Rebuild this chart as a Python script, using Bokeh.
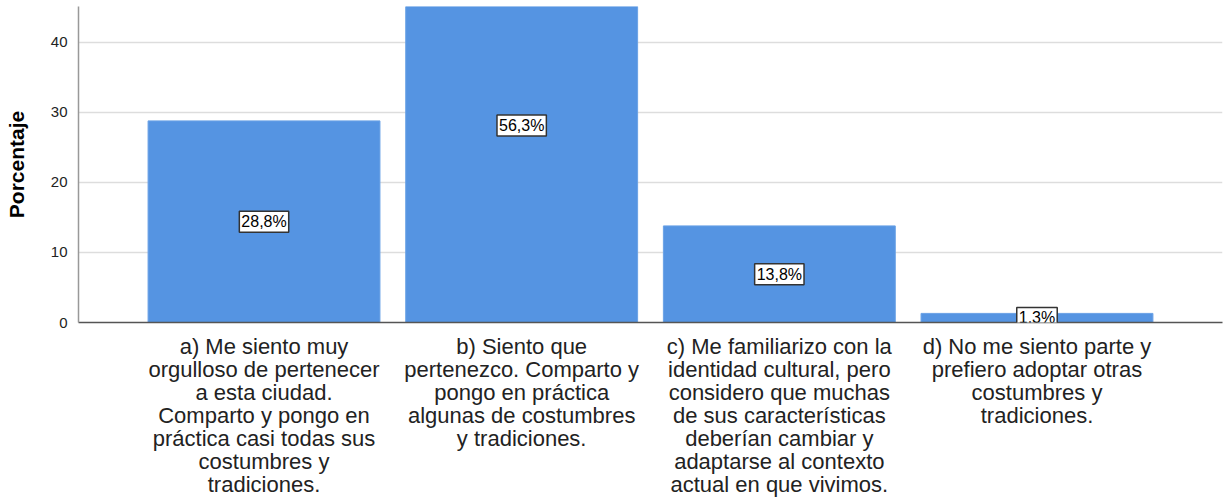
from bokeh.plotting import figure
from bokeh.models import Range1d, ColumnDataSource, Label, FixedTicker
from bokeh.embed import file_html
from bokeh.resources import INLINE

categories = [
    "a) Me siento muy\norgulloso de pertenecer\na esta ciudad.\nComparto y pongo en\npráctica casi todas sus\ncostumbres y\ntradiciones.",
    "b) Siento que\npertenezco. Comparto y\npongo en práctica\nalgunas de costumbres\ny tradiciones.",
    "c) Me familiarizo con la\nidentidad cultural, pero\nconsidero que muchas\nde sus características\ndeberían cambiar y\nadaptarse al contexto\nactual en que vivimos.",
    "d) No me siento parte y\nprefiero adoptar otras\ncostumbres y\ntradiciones.",
]
percentages = [28.8, 56.3, 13.8, 1.3]
y_ticks = [0, 10, 20, 30, 40]

xs = list(range(len(categories)))
labels = [("%.1f" % v).replace(".", ",") + "%" for v in percentages]
mids = [v / 2 for v in percentages]

src = ColumnDataSource(dict(x=xs, top=percentages, mid=mids, label=labels))

p = figure(width=1225, height=499, output_backend="svg", toolbar_location=None,
           x_range=Range1d(-0.72, 3.72), y_range=Range1d(0, 45.14),
           min_border_left=78, min_border_right=3, min_border_top=6, min_border_bottom=177)
p.outline_line_color = None
p.background_fill_color = "white"

p.vbar(x="x", top="top", width=0.9, bottom=0, source=src,
       fill_color="#5594e2", line_color="#6aa2e6", line_width=1)

for x, m, t in zip(xs, mids, labels):
    p.add_layout(Label(x=x, y=m, text=t, level="overlay",
                       text_align="center", text_baseline="middle",
                       text_font="Liberation Sans", text_font_size="16px", text_color="black",
                       background_fill_color="white", border_line_color="#333333",
                       border_line_width=1.5, padding=2))

# axes
p.xaxis.ticker = FixedTicker(ticks=xs)
p.xaxis.major_label_overrides = {i: c for i, c in zip(xs, categories)}
p.xaxis.major_label_text_font = "Liberation Sans"
p.xaxis.major_label_text_font_size = "22px"
p.xaxis.major_label_text_line_height = 0.92
p.xaxis.major_label_text_color = "#222222"
p.xaxis.major_label_text_align = "center"
p.xaxis.major_label_standoff = 5
p.xaxis.major_tick_line_color = None
p.xaxis.minor_tick_line_color = None
p.xaxis.axis_line_color = "#555555"
p.xaxis.axis_line_width = 1.5

p.yaxis.ticker = FixedTicker(ticks=y_ticks)
p.yaxis.major_label_text_font = "Liberation Sans"
p.yaxis.major_label_text_font_size = "15px"
p.yaxis.major_label_text_color = "#222222"
p.yaxis.major_label_standoff = 5
p.yaxis.major_tick_line_color = None
p.yaxis.minor_tick_line_color = None
p.yaxis.axis_line_color = "#999999"
p.yaxis.axis_line_width = 1.5
p.yaxis.axis_label = "Porcentaje"
p.yaxis.axis_label_text_font = "Liberation Sans"
p.yaxis.axis_label_text_font_style = "bold"
p.yaxis.axis_label_text_font_size = "21px"
p.yaxis.axis_label_text_color = "black"
p.yaxis.axis_label_standoff = 20

p.xgrid.grid_line_color = None
p.ygrid.grid_line_color = "#dddddd"
p.ygrid.grid_line_width = 1.5

open("out.html", "w").write(file_html(p, INLINE))
